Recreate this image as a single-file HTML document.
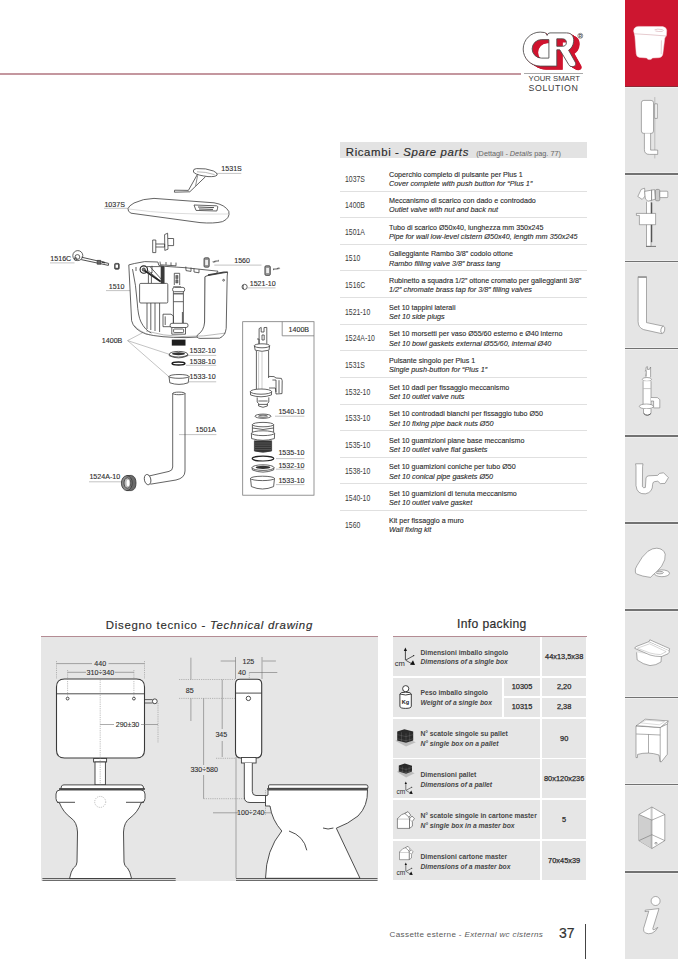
<!DOCTYPE html>
<html><head><meta charset="utf-8">
<style>
*{margin:0;padding:0;box-sizing:border-box}
html,body{width:678px;height:959px;overflow:hidden;background:#fff}
body{position:relative;font-family:"Liberation Sans",sans-serif;color:#333}
.abs{position:absolute}
#side{position:absolute;left:625px;top:0;width:53px;height:959px;background:#e5e5e5}
#side .red{position:absolute;left:0;top:0;width:53px;height:86.6px;background:#cd1630;border-bottom:1px solid #8d2a36;box-shadow:0 1px 0 #f0eeee}
#side .sep{position:absolute;left:0;width:53px;height:1.6px;background:#727272;box-shadow:0 -1px 0 #efefef,0 1px 0 #efefef}
/* spare parts table */
#sp{position:absolute;left:340px;top:142px;width:246px}
#sp .hd{position:relative;height:16.2px;background:#e3e3e3;width:246.8px}
#sp .hd .t{position:absolute;left:5.8px;top:0.1px;font-size:11.4px;line-height:20px;letter-spacing:0.62px;color:#2b2b2b;white-space:nowrap;-webkit-text-stroke:0.15px #2b2b2b}
#sp .hd .s{position:absolute;left:136.2px;top:5.6px;font-size:7.3px;line-height:12px;color:#666;white-space:nowrap}
#sp .row{position:absolute;left:0;width:246.8px;height:26.63px;border-bottom:1.2px solid #e0e0e0}
#sp .row.last{border-bottom:none}
#sp .code{position:absolute;left:5.3px;top:1.7px;height:26.63px;line-height:26.63px;font-size:8.2px;color:#3a3a3a;transform:scaleX(0.84);transform-origin:0 0}
#sp .d{position:absolute;left:48.8px;top:4.7px;font-size:8px;line-height:9.3px;color:#2a2a2a;white-space:nowrap;-webkit-text-stroke:0.12px #2a2a2a;transform:scaleX(0.89);transform-origin:0 0}
#sp .d i{display:block;font-size:8px;color:#2a2a2a;transform:scaleX(1.02);transform-origin:0 0}

/* info packing */
.ic{position:absolute;background:#e6e6e6}
.il{position:absolute;left:420.4px;font-size:6.75px;line-height:9.8px;font-weight:bold;color:#464646;white-space:nowrap}
.il i{display:block}
.iv{position:absolute;font-size:7.4px;font-weight:normal;color:#2a2a2a;white-space:nowrap;text-align:center;line-height:10px;-webkit-text-stroke:0.25px #2a2a2a}
</style></head>
<body>

<!-- header -->
<div class="abs" style="left:0;top:72.6px;width:521px;height:1px;background:#f3d0d6"></div>
<div class="abs" style="left:0;top:73.4px;width:521px;height:1.3px;background:#c4979f"></div>
<div class="abs" style="left:524px;top:73.3px;width:59px;height:1.2px;background:#a9a9a9"></div>
<div class="abs" style="left:528.6px;top:75.4px;font-size:7.7px;letter-spacing:0.02px;color:#3a3a3a;line-height:8px;white-space:nowrap">YOUR SMART</div>
<div class="abs" style="left:528.6px;top:83.5px;font-size:8.8px;letter-spacing:0.62px;color:#3a3a3a;line-height:9px;white-space:nowrap">SOLUTION</div>

<!-- logo -->
<svg class="abs" style="left:0;top:0" width="678" height="959" viewBox="0 0 678 959">
<defs><path id="lf" d="M540.2 32.1 L544.5 32.5 Q546.6 33 547.1 35.4 Q547.7 33 549.9 32.9 L566.6 32.9 C571.6 32.9 574 36.4 573.7 41.2 C573.4 45.6 571 48.8 568.6 50.2 L575.3 62.2 C576.6 64.8 574.8 66.6 572.2 66.6 C570.4 66.6 569.4 65.8 568.7 64.6 L559.8 49.8 L556.8 49.8 L556.8 66.1 L540.2 66.1 A17 17 0 0 1 540.2 32.1 Z M548.9 39.6 L541.4 39.6 A9.25 9.25 0 0 0 541.4 58.1 L548.9 58.1 Z M556.8 38.8 L562.2 38.8 C565 38.8 566.4 40.2 566.4 42.5 C566.4 45 565 46.3 562.2 46.3 L556.8 46.3 Z" fill-rule="evenodd"/></defs>
<g fill="#d0132e"><use href="#lf" transform="translate(0.50 0.30)"/><use href="#lf" transform="translate(1.00 0.60)"/><use href="#lf" transform="translate(1.50 0.90)"/><use href="#lf" transform="translate(2.00 1.20)"/><use href="#lf" transform="translate(2.50 1.50)"/><use href="#lf" transform="translate(3.00 1.80)"/><use href="#lf" transform="translate(3.50 2.10)"/><use href="#lf" transform="translate(4.00 2.40)"/><use href="#lf" transform="translate(4.50 2.70)"/><use href="#lf" transform="translate(5.00 3.00)"/><use href="#lf" transform="translate(5.50 3.30)"/><use href="#lf" transform="translate(6.00 3.60)"/></g>
<use href="#lf" fill="#fff" stroke="#4a4a4a" stroke-width="0.85"/>
<circle cx="580.3" cy="35.8" r="2.5" fill="#fff" stroke="#555" stroke-width="0.6"/>
<text x="580.3" y="37.6" font-family="Liberation Sans, sans-serif" font-size="4.6" font-weight="bold" fill="#555" text-anchor="middle">R</text>
</svg>

<!-- sidebar -->
<div id="side">
<div class="red"></div>
<div class="sep" style="top:173.4px"></div>
<div class="sep" style="top:260.6px"></div>
<div class="sep" style="top:347.8px"></div>
<div class="sep" style="top:435.0px"></div>
<div class="sep" style="top:522.2px"></div>
<div class="sep" style="top:609.4px"></div>
<div class="sep" style="top:696.6px"></div>
<div class="sep" style="top:783.8px"></div>
<div class="sep" style="top:871.0px"></div>
</div>
<!-- sidebar icons -->
<svg class="abs" style="left:0;top:0" width="678" height="959" viewBox="0 0 678 959">
<!-- 1 cistern (white on red) -->
<g fill="#fff" stroke="#f3d6da" stroke-width="0.5">
<path d="M634.4 34 Q633 30.4 634.2 28.6 Q635.6 26.5 638.4 26.4 L662.6 26.6 Q666.2 27 666.7 30.4 L666.4 35.6 Q665.6 37 664.8 38 L662.8 54.2 Q662.2 57.4 658.6 57.7 L652.4 58 Q651.6 59.8 649.2 59.6 Q647.4 59.6 646.8 58 L639.6 57.4 Q636.4 57 636.2 53.6 L634.9 36.6 Z"/>
</g>
<g fill="none" stroke="#c88a94" stroke-width="0.45">
<path d="M634.6 33.8 Q650 34.6 666.4 36"/>
<path d="M661.4 40.4 L661.2 54.2"/>
<path d="M654.6 29.8 Q657 28.6 662.4 29.6 Q664 30.6 662.4 31.4 Q658.4 31.8 655.4 31"/>
</g>
<g fill="#fff" stroke="#6a6a6a" stroke-width="0.55" stroke-linejoin="round">
<!-- 2 wall cistern -->
<path d="M654.8 97.1 L654.8 158.4" stroke="#999"/>
<rect x="641.4" y="100.4" width="12.1" height="33" rx="2.4"/>
<rect x="654.8" y="103.8" width="2.5" height="14.6"/>
<path d="M644.4 133.4 L644.4 149.5 Q644.4 154.4 649.4 154.4 L657.7 154.4 L657.7 150.1 L650.6 150.1 L650.6 133.4"/>
<!-- 3 fill valve -->
<path d="M646.5 201.7 L646.5 246.4 L651 246.4 L651 201.7"/>
<path d="M651.6 202.5 L651.6 242.2" stroke="#555" stroke-width="1.3"/>
<path d="M636.4 213.4 L655.6 213.4 L655.6 224.7 L639.4 224.7 L639.4 215.4 L636.4 215.4 Z"/>
<path d="M646 246.4 L656 246.4" stroke-width="0.9"/>
<path d="M637.8 196.5 L641.2 189.4 L644.6 188.2 L645.2 196 L642.2 199.4 Z"/>
<path d="M644.6 191.4 L654.6 189.6 L655.4 199.2 L648 201.2 L645.4 199 Z"/>
<rect x="655.4" y="189.4" width="4.4" height="11.4" rx="1.4" fill="#ccc"/>
<rect x="659.8" y="191.2" width="8" height="6.4" rx="0.8"/>
<path d="M651.6 189.8 L651.6 200.6" stroke="#888" stroke-width="1"/>
<!-- 4 pipe -->
<path d="M638.1 276.7 L638.1 321.4 Q638.1 327.6 643.6 329.6 L661.6 333.6 L663.6 326.2 L646.5 322.6 L646.5 276.7 Z"/>
<path d="M638.1 277.2 L646.5 277.2" stroke="#888" stroke-width="1.2"/>
<ellipse cx="662.8" cy="329.8" rx="1.9" ry="3.6" transform="rotate(12 662.8 329.8)"/>
<!-- 5 outlet valve -->
<path d="M646 377.2 L646 367.4 L647.4 366.6 L647.4 369.4 L649.4 369.4 L650.6 367 L650.6 377.2"/>
<path d="M644.8 371.2 L646 370.6 L646 376"/>
<ellipse cx="646.9" cy="379.4" rx="4.6" ry="1.9"/>
<path d="M643.1 381.2 L643.1 405 L651 405 L651 381.2"/>
<path d="M643.4 388.6 L650.8 388.6" stroke="#999"/>
<path d="M651 397.5 L657.4 397.6 L659.8 399.6 L659.8 407.9 L653.6 407.9 L653.6 401 L651 401"/>
<ellipse cx="646.4" cy="406.4" rx="7.1" ry="2.4"/>
<path d="M643.5 409 L643.5 413.4 Q647.3 416.6 651 413.4 L651 409"/>
<path d="M643.8 413.6 Q647.3 416.8 650.8 413.6" stroke="#555" stroke-width="1"/>
<!-- 6 P-trap -->
<path d="M635.6 463.8 L643 463.8 L642.6 466.4 L642.4 486.6 Q643.6 488.6 645.4 487.4 L646 478 Q646.4 476 648.8 475.8 L657.6 475.4 L659.6 473.4 L663.6 472.8 L668.4 477.6 L665 483.4 L660.4 483.6 L657.8 481.2 L654.6 481.6 Q652.6 482 652.6 484.4 Q652.8 492.4 645.4 493.8 Q637 494.6 636 485.6 L636 466.4 Z"/>
<!-- 7 toilet seat -->
<ellipse cx="661.9" cy="573.3" rx="7.6" ry="3.4"/>
<ellipse cx="659.6" cy="572.6" rx="3.8" ry="1.3" fill="#e5e5e5"/>
<path d="M635.4 572 Q634.6 569 637 565.6 Q642 556 648 551.2 Q652.8 548 656.8 548.2 Q663.6 548.6 665.2 554.2 Q666 559.4 661.6 566.2 Q657 572 652.2 575.6 L650.6 577.4 Q642 576.4 636.6 574 Q635.6 573.4 635.4 572 Z"/>
<!-- 8 sink -->
<path d="M636.6 652.4 L637.2 660 Q643 664.4 650 665.6 Q656 665.4 661 662 L661.4 656"/>
<path d="M634.8 648.4 Q634.8 646.8 637 646.2 L649 641.6 L669.2 650.4 Q669.8 652.4 668 653.8 L661.4 656.6 Q655 656.6 650 655 Z"/>
<path d="M637.4 648.2 L649.6 643.8 L666.2 651.6 L660.6 654.6 Q655 654.4 650 653 Z" fill="none" stroke="#999" stroke-width="0.4"/>
<path d="M649 641.6 L649.8 639.8 L669.6 648.6 L669.2 650.4" />
<!-- 9 vanity -->
<path d="M636 726 L636 757.6 L637.4 757.6 L637.6 754.4 Q648 751.4 659 755 L660.2 761.8 L661.4 761.8 L667.3 754.3 L667.3 724 L660.2 727.5 Z"/>
<path d="M636 726 L645.2 719.2 L668.2 720.9 L667.3 724"/>
<path d="M636 725.6 Q648 726.4 660.2 727.5 L668.2 721"/>
<path d="M640 722.8 L646.4 720.2 L664.6 721.6 L659.4 724.8 Z" fill="none" stroke="#aaa" stroke-width="0.4"/>
<path d="M636.2 734 Q648 734.4 660.2 735" fill="none"/>
<path d="M648.5 734.4 L648.5 753" fill="none"/>
<path d="M660.2 727.5 L660.2 761.8" fill="none"/>
<!-- 10 shower box -->
<path d="M638.9 814.5 L651.9 807 L664.8 814.5 L664.8 840.6 L651.9 848.5 L638.9 840.6 Z"/>
<path d="M638.9 814.5 L651.9 820.1 L651.9 848.5 L638.9 840.6 Z" fill="#cfcfcf" stroke="none"/>
<path d="M638.9 814.5 L651.9 820.1 L664.8 814.5 M651.9 807 L651.9 848.5 M638.9 840.6 L651.9 834.7 L664.8 840.6" fill="none"/>
<path d="M650.8 807.4 L650.8 848" fill="none" stroke="#aaa" stroke-width="0.4"/>
<ellipse cx="656" cy="843.2" rx="1.3" ry="0.8" fill="none"/>
<!-- 11 info i -->
<circle cx="655.6" cy="901" r="4.5"/>
<path d="M645.2 910.2 L659 908.6 L652.8 928.6 Q652.6 930.4 654.4 929.6 L657.8 927.4 Q656 931.4 652 933.2 Q648.4 934.4 645.4 933 Q643 931.6 643.6 928.4 L648.8 911.2 L645 911.6 Z"/>
</g>
</svg>

<!-- exploded diagram -->
<svg class="abs" style="left:0;top:0" width="678" height="959" viewBox="0 0 678 959">
<g fill="none" stroke="#9a9a9a" stroke-width="0.6">
<!-- leader lines -->
<path d="M213 173.4 L241.3 173.4"/>
<path d="M104 208.3 L130 208.3"/>
<path d="M50 262.9 L74.5 262.9"/>
<path d="M106 290.6 L147.4 290.6"/>
<path d="M214.3 265.1 L261.5 265.1"/>
<path d="M247.5 287.9 L275.5 287.9"/>
<path d="M127.6 340.6 L146.6 330.6 M127.6 340.6 L169 354.2 M127.6 340.6 L170.2 377.8"/>
<path d="M186 355.4 L216.2 355.4 M186 365.3 L216.2 365.3 M189 381.8 L216.2 381.8"/>
<path d="M179 434.6 L216.4 434.6"/>
<path d="M89 481.8 L123 481.8"/>
<path d="M275 416.2 L304.4 416.2 M276 458.6 L304.4 458.6 M276 469.2 L304.4 469.2 M276 484.6 L304.4 484.6"/>
</g>
<g fill="none" stroke="#3c3c3c" stroke-width="0.8" stroke-linejoin="round">
<!-- push button 1531S -->
<path d="M193.4 171 Q193 169 196.5 168.6 Q206 168 213.5 171 Q217.8 173 217.2 175 Q215.5 177 208 176.6 Q198 175.4 194.4 173 Q193.4 172.2 193.4 171 Z" fill="#fff"/>
<path d="M197 171.8 Q205 171.6 214.6 174.6" stroke="#888" stroke-width="0.6"/>
<path d="M197.4 174.4 L188.4 190.4 L174.6 190.2 L174.4 192.2 L189.8 191.8 L205.4 176.8"/>
<path d="M197.6 175.4 L195.6 185.8" stroke-width="0.6"/>
<!-- cover 1037S -->
<path d="M128 208.6 Q128.6 206 134 203 Q143 198.6 154 198.4 L214 202.8 Q225 204.6 228.8 211.4 Q230.4 218 222.6 221.6 Q214 223.8 200 222.6 L131 213.2 Q127.6 211.6 128 208.6 Z" fill="#fff"/>
<path d="M194 205 L216.5 205.8 Q218.5 206 217.6 208.2 L216.8 211 L196 210.4 Z"/>
<path d="M198 207 L214 207.6 M199 209 L213 209.4" stroke-width="0.9"/>
<path d="M129 209 Q170 215 228 214" stroke="#bbb" stroke-width="0.5"/>
<!-- bracket 1560 top -->
<path d="M152.7 240 L155.8 240 L155.8 252.6 L152.7 252.6 Z"/>
<path d="M155.8 244 L164.6 244 L164.6 247 L155.8 247"/>
<path d="M164.6 234.6 L167.6 233.2 L168 249.2 L164.8 250.4 Z"/>
<path d="M168 238.5 L173.6 238.5 L173.6 245.6 L168 245.6"/>
<!-- tap 1516C -->
<circle cx="77.8" cy="255.6" r="5" fill="#fff"/>
<circle cx="77.4" cy="257" r="2.4"/>
<circle cx="75.6" cy="259" r="1.4"/>
<path d="M81.5 257.2 L108.6 263.4 L108.4 265.4 L81.2 259.6" stroke-width="0.9"/>
<rect x="97.2" y="260.4" width="3.6" height="3.8" fill="#666"/>
<path d="M102 262 L105 262.8" stroke-width="1.4"/>
<!-- small nut -->
<rect x="114.6" y="263.4" width="4.6" height="5.8" rx="1" fill="#555"/>
<rect x="115.6" y="264.6" width="2.4" height="3.2" fill="#fff" stroke="none"/>
<!-- cistern body -->
<path d="M128.8 264.9 L134.4 263.5 L144.7 261.6 L157.9 262 L158.8 265.3 L164.4 266.3 L185 267.7 L218 271.2 L216 274 L207.8 275.6 L205.2 277 L205 327 Q204.6 334.8 199 337 L186 337.6 Q160 337.6 146 334 Q133.6 329.6 131.6 320.7 Z" fill="#fff"/>
<path d="M132.5 269.1 Q136 285 137.2 302 Q138 316 141 322 Q145 330 151.3 333"/>
<path d="M134.4 325.4 Q140 332 150 335" stroke="#888" stroke-width="0.5"/>
<path d="M160 261.6 L160.4 264.8 L176 265.8 L176 262.6"/>
<path d="M166 262 L166 264.9 M171 262.4 L171 265.4"/>
<path d="M185.8 266.6 L186 270.6 L191 271.4 L191 267.6 M194 268.3 L194 272 L199 272.8 L199 269.4"/>
<path d="M136 267 L136 271 M152 265.8 L152 273"/>
<!-- fill valve 1510 -->
<circle cx="143.8" cy="269.6" r="3.7" stroke="#222" stroke-width="1.1" fill="#fff"/>
<circle cx="143.8" cy="269.6" r="1.6" fill="#777"/>
<path d="M147 266.6 L163.8 266.6 L163.8 283 M147.4 270.2 L161 281.6 M150 266.6 L162 280" />
<rect x="160.7" y="266.3" width="3.7" height="17.8" fill="#3a3a3a" stroke="none"/>
<path d="M144.5 270.5 L160.5 281.5" stroke="#222" stroke-width="1.6"/>
<path d="M148.4 272 L148.4 283.4 M151.4 272 L151.4 283.4"/>
<rect x="139.6" y="283.4" width="28.2" height="19.6" rx="1.2" fill="#fff"/>
<path d="M147 303 L147 329 M150.8 303 L150.8 330 M155 303 L155 331 M159.6 303 L159.6 332"/>
<!-- outlet valve -->
<path d="M174.3 285 L174.3 273.3 L179.7 273.3 L179.7 285"/>
<rect x="175.8" y="275.4" width="2.2" height="3.2" fill="#777" stroke-width="0.5"/>
<rect x="175.8" y="279.8" width="2.2" height="3.2" fill="#777" stroke-width="0.5"/>
<path d="M173.2 286.6 L181 286.6" stroke-width="0.6"/>
<rect x="172.6" y="287.4" width="12.1" height="4.3" rx="1.8" fill="#fff"/>
<path d="M173.4 291.7 L173.4 323.3 M183.4 291.7 L183.4 323.3"/>
<path d="M173.6 293.8 L183.2 293.8" stroke-width="1.1"/>
<path d="M173.6 301.7 L183.2 301.7"/>
<path d="M182.4 312 L182.4 323" stroke="#555" stroke-width="1"/>
<path d="M163 314.2 L171 314.2 L173.4 316 L173.4 326.7 L163 326.7 Z M165.2 316.4 L165.2 325"/>
<rect x="170.1" y="323.3" width="17.9" height="4.2" rx="1.8" fill="#fff"/>
<path d="M171.8 327.5 L171.8 334.2 L185.5 334.2 L185.5 327.5"/>
<rect x="173.6" y="329" width="10" height="3.6" rx="0.8"/>
<!-- front wall -->
<path d="M205 276.6 L207.8 275.6 L227.6 272.2 L227.2 276 L226.2 328.4 Q225.2 336 219.5 338.2 L200 338.4 Q196 338 197.4 335 Q204 331 204.6 322 Z" fill="#fff"/>
<path d="M208 275 L224 272.2 L227.6 272.2" stroke-width="1.3"/>
<circle cx="223.6" cy="280.2" r="0.9"/>
<path d="M146 331 Q180 341 226 333" stroke="#777" stroke-width="0.5"/>
<!-- threaded part -->
<rect x="171.8" y="339.6" width="13.7" height="6" fill="#1e1e1e" stroke="none"/>
<!-- 1532 nut -->
<ellipse cx="178.5" cy="354.2" rx="9.2" ry="2.8" fill="#fff" stroke-width="0.8"/>
<ellipse cx="178.5" cy="353.8" rx="6.6" ry="1.5" fill="#333" stroke="none"/>
<path d="M169.3 354.2 L169.3 355.8 Q178.5 360 187.7 355.8 L187.7 354.2"/>
<!-- 1538 gasket -->
<ellipse cx="178.5" cy="363.6" rx="6.4" ry="1.5" fill="none" stroke="#1a1a1a" stroke-width="1.5"/>
<!-- 1533 cup -->
<ellipse cx="179" cy="376.4" rx="10" ry="1.9" fill="#fff"/>
<path d="M169 376.4 L169.8 382.8 Q179 386 188.2 382.8 L189 376.4"/>
<!-- pipe 1501A -->
<ellipse cx="178.85" cy="393.4" rx="6.15" ry="1.3" fill="#fff"/>
<path d="M172.7 393.4 L172.7 467 Q172.7 470.6 169 471.4 L149 476 M185 393.4 L185 471 Q185 478 176 480 L150.4 484.2"/>
<ellipse cx="147.6" cy="479.6" rx="3.2" ry="5.2" transform="rotate(-12 147.6 479.6)" fill="#fff"/>
<!-- gasket 1524A -->
<path d="M126.7 475.6 L131.4 475.4 Q136 476.4 136 483 Q136 489.8 131.4 490.6 L126.7 490.6 Z" fill="#6a6a6a" stroke="#333"/>
<ellipse cx="126.8" cy="483.1" rx="5.4" ry="7.4" fill="#8a8a8a" stroke="#333"/>
<ellipse cx="127.4" cy="483" rx="3.4" ry="5.2" fill="#bdbdbd" stroke="#3a3a3a"/>
<ellipse cx="128" cy="483" rx="1.4" ry="3.3" fill="#fff" stroke="none"/>
<!-- clips 1560 -->
<rect x="204" y="257.8" width="5.2" height="9.4" rx="1.2" fill="#999"/>
<rect x="205.2" y="260" width="2.8" height="5" fill="#eee" stroke="none"/>
<path d="M212.8 262 L218.8 260.6" stroke-width="1.6" stroke-dasharray="0.8 0.5"/>
<rect x="264.9" y="265.8" width="5.4" height="9.6" rx="1.2" fill="#999"/>
<rect x="266.2" y="268" width="2.8" height="5" fill="#eee" stroke="none"/>
<path d="M273.2 269.4 L280 268.2" stroke-width="1.6" stroke-dasharray="0.8 0.5"/>
<!-- plug 1521 -->
<circle cx="244.6" cy="286.9" r="2.6" fill="#fff"/>
<path d="M243.4 285 Q242.4 287 243.6 289"/>
</g>
<!-- detail box -->
<g fill="none" stroke="#7a7a7a" stroke-width="0.8">
<rect x="242.7" y="321.7" width="71.3" height="173.5"/>
<path d="M282.2 321.7 L282.2 335.8 L314 335.8"/>
</g>
<g fill="none" stroke="#3c3c3c" stroke-width="0.8" stroke-linejoin="round">
<path d="M259.1 343.9 L259.1 328.6 L261.2 327.4 L261.2 332 L264 332 L264 327.6 L266.8 327.4 L266.8 343.9"/>
<path d="M262 335 L264.2 335 L264.2 340 L262 340 Z"/>
<path d="M257 339 L259 339 L259 344"/>
<ellipse cx="262" cy="345.8" rx="7.8" ry="2" fill="#fff"/>
<path d="M254.4 346 L255.2 350.2 Q262 352.4 269 350.2 L269.6 346"/>
<path d="M256.4 351 L256.4 389.6 M268.6 351 L268.6 378"/>
<path d="M258.6 352 L258.6 389 M262 352 L262 389" stroke="#999" stroke-width="0.5"/>
<path d="M268.6 376.4 L274 376.6 L276 378 L281.4 378.4 L282.2 380.6 L282 393.6 L276 394 L275.4 388 L269 388"/>
<path d="M272.4 380 L276 380 L276 392 M279 380.2 L279 393"/>
<ellipse cx="261" cy="391.6" rx="10.6" ry="2.6" fill="#fff"/>
<path d="M250.4 391.6 L250.6 395 Q261 398.6 271.4 395 L271.6 391.6"/>
<path d="M257.2 397.4 L257.2 402 L258.6 403.6 L258.6 406 Q263 408.6 267.4 406 L267.4 403.6 L268.8 402 L268.8 397.4"/>
<path d="M258.4 401 L267.6 401 M258.6 404.4 L267.4 404.4"/>
<!-- 1540 washer -->
<ellipse cx="263" cy="416.2" rx="8" ry="2.1" fill="#fff"/>
<ellipse cx="263" cy="416.2" rx="4.4" ry="1" />
<!-- nut block 1535 -->
<ellipse cx="263" cy="424.6" rx="10.6" ry="2.2" fill="#fff"/>
<path d="M252.4 424.6 L252.4 432.4 M273.6 424.6 L273.6 432.4"/>
<path d="M252.4 428 Q263 431 273.6 428"/>
<ellipse cx="263" cy="433.2" rx="11.6" ry="2.4" fill="#fff"/>
<path d="M251.4 433.4 L251.6 438.6 Q263 442 274.4 438.6 L274.6 433.4"/>
<path d="M254.4 440.6 L254.4 451 Q263 453.4 271.6 451 L271.6 440.6" fill="#333"/>
<path d="M255 443 L271 443 M255 445.2 L271 445.2 M255 447.4 L271 447.4 M255 449.6 L271 449.6" stroke="#777" stroke-width="0.5"/>
<!-- 1535 gasket -->
<ellipse cx="263" cy="458.6" rx="10.8" ry="2.4" fill="none" stroke="#222" stroke-width="1.2"/>
<!-- 1532 nut -->
<ellipse cx="263" cy="467.6" rx="11" ry="2.8" fill="#fff"/>
<ellipse cx="263" cy="467.4" rx="7.4" ry="1.6" fill="#333" stroke="none"/>
<path d="M252 467.6 L252.4 470 Q263 474.2 273.6 470 L274 467.6"/>
<!-- 1533 cup -->
<ellipse cx="262.5" cy="478.4" rx="12" ry="2.2" fill="#fff"/>
<path d="M250.5 478.4 L251.4 486.6 Q262.5 491.4 273.6 486.6 L274.5 478.4"/>
</g>
<g font-family="Liberation Sans, sans-serif" font-size="7.1" fill="#2e2e2e" stroke="#2e2e2e" stroke-width="0.12">
<text x="221.3" y="170.6">1531S</text>
<text x="104.4" y="206.6">1037S</text>
<text x="50.3" y="260.9">1516C</text>
<text x="108.7" y="289.1">1510</text>
<text x="234.2" y="263.1">1560</text>
<text x="249.7" y="286">1521-10</text>
<text x="101.8" y="343.4">1400B</text>
<text x="189.6" y="352.7">1532-10</text>
<text x="189.6" y="363.8">1538-10</text>
<text x="189.6" y="379.1">1533-10</text>
<text x="195.6" y="431.9">1501A</text>
<text x="89.4" y="479.1">1524A-10</text>
<text x="288.6" y="332">1400B</text>
<text x="278.4" y="413.9">1540-10</text>
<text x="278.4" y="455.3">1535-10</text>
<text x="278.4" y="467.8">1532-10</text>
<text x="278.4" y="482.9">1533-10</text>
</g>
</svg>

<!-- spare parts -->
<div id="sp">
<div class="hd"><span class="t">Ricambi - <i>Spare parts</i></span><span class="s">(Dettagli - <i>Details</i> pag. 77)</span></div>
<div class="row" style="top:22.9px"><div class="code">1037S</div><div class="d">Coperchio completo di pulsante per Plus 1<i>Cover complete with push button for “Plus 1”</i></div></div>
<div class="row" style="top:49.5px"><div class="code">1400B</div><div class="d">Meccanismo di scarico con dado e controdado<i>Outlet valve with nut and back nut</i></div></div>
<div class="row" style="top:76.1px"><div class="code">1501A</div><div class="d">Tubo di scarico Ø50x40, lunghezza mm 350x245<i>Pipe for wall low-level cistern Ø50x40, length mm 350x245</i></div></div>
<div class="row" style="top:102.8px"><div class="code">1510</div><div class="d">Galleggiante Rambo 3/8” codolo ottone<i>Rambo filling valve 3/8” brass tang</i></div></div>
<div class="row" style="top:129.4px"><div class="code">1516C</div><div class="d">Rubinetto a squadra 1/2” ottone cromato per galleggianti 3/8”<i>1/2” chromate brass tap for 3/8” filling valves</i></div></div>
<div class="row" style="top:156px"><div class="code">1521-10</div><div class="d">Set 10 tappini laterali<i>Set 10 side plugs</i></div></div>
<div class="row" style="top:182.7px"><div class="code">1524A-10</div><div class="d">Set 10 morsetti per vaso Ø55/60 esterno e Ø40 interno<i>Set 10 bowl gaskets external Ø55/60, internal Ø40</i></div></div>
<div class="row" style="top:209.3px"><div class="code">1531S</div><div class="d">Pulsante singolo per Plus 1<i>Single push-button for “Plus 1”</i></div></div>
<div class="row" style="top:235.9px"><div class="code">1532-10</div><div class="d">Set 10 dadi per fissaggio meccanismo<i>Set 10 outlet valve nuts</i></div></div>
<div class="row" style="top:262.6px"><div class="code">1533-10</div><div class="d">Set 10 controdadi bianchi per fissaggio tubo Ø50<i>Set 10 fixing pipe back nuts Ø50</i></div></div>
<div class="row" style="top:289.2px"><div class="code">1535-10</div><div class="d">Set 10 guamizioni piane base meccanismo<i>Set 10 outlet valve flat gaskets</i></div></div>
<div class="row" style="top:315.8px"><div class="code">1538-10</div><div class="d">Set 10 guamizioni coniche per tubo Ø50<i>Set 10 conical pipe gaskets Ø50</i></div></div>
<div class="row" style="top:342.5px"><div class="code">1540-10</div><div class="d">Set 10 guamizioni di tenuta meccanismo<i>Set 10 outlet valve gasket</i></div></div>
<div class="row last" style="top:369.1px"><div class="code">1560</div><div class="d">Kit per fissaggio a muro<i>Wall fixing kit</i></div></div>
</div>

<!-- section titles -->
<div class="abs" style="left:41.2px;top:636.9px;width:336.5px;height:244.3px;background:#e6e6e6"></div>
<div class="abs" style="left:41.3px;top:635.8px;width:336.4px;height:1.3px;background:#b48c94"></div>
<div id="t1" class="abs" style="left:105.8px;top:616.5px;font-size:11.4px;line-height:16px;letter-spacing:0.72px;color:#2e2e2e;-webkit-text-stroke:0.15px #2e2e2e;white-space:nowrap">Disegno tecnico - <i>Technical drawing</i></div>
<div class="abs" style="left:392.6px;top:635.8px;width:194px;height:1.3px;background:#b48c94"></div>
<div id="t2" class="abs" style="left:457px;top:616.1px;font-size:12.1px;line-height:16px;letter-spacing:0.37px;color:#2e2e2e;-webkit-text-stroke:0.2px #2e2e2e;white-space:nowrap">Info packing</div>

<!-- technical drawing -->
<svg class="abs" style="left:0;top:0" width="678" height="959" viewBox="0 0 678 959">
<g fill="none" stroke="#3a3a3a" stroke-width="0.9">
<!-- front cistern -->
<path d="M56.5 750 L56.5 687 Q56.5 679 64.5 679 L136.5 679 Q144.5 679 144.5 687 L144.5 750 Q144.5 758 136.5 758 L64.5 758 Q56.5 758 56.5 750 Z" fill="#fff" stroke-width="1.1"/>
<line x1="56.5" y1="693.8" x2="144.5" y2="693.8"/>
<circle cx="67.6" cy="698.6" r="1.4"/>
<circle cx="133.9" cy="698.6" r="1.4"/>
<!-- handle -->
<path d="M144.5 699.6 L152.6 699.6 M144.5 703 L152.6 703" stroke-width="0.8"/>
<circle cx="154.8" cy="701.3" r="2.4" fill="#fff"/>
<!-- pipe front -->
<rect x="93.6" y="758.5" width="13" height="3.5" fill="#fff"/>
<rect x="95" y="762" width="10.4" height="22.9" fill="#fff"/>
<!-- seat front -->
<path d="M60.8 789 L61.6 786 Q62 784.9 64 784.9 L140.5 784.9 Q142.5 784.9 143 786 L143.8 789 Z" fill="#fff"/>
<line x1="59" y1="789" x2="145" y2="789" stroke-width="1.4"/>
<!-- bowl front -->
<path d="M60 790 L141 790 Q145 790 145 794 L145 798.5 Q145 802 142 802.5 L141 803 Q138 812 130 818 Q124 822 123.5 832 L124 862 Q124 866 127.5 868 Q130 871 131.6 878.6 L69.5 878.6 Q71 871 73.5 868 Q77 866 77 862 L77.5 832 Q77 822 71 818 Q63 812 59.5 803 L58.5 802.5 Q56 802 56 798.5 L56 794 Q56 790 60 790 Z" fill="#fff"/>
<path d="M57 802.3 L75 802.3 M126 802.3 L144 802.3"/>
<circle cx="100.2" cy="801.9" r="5.5" stroke="#999" stroke-width="0.6" stroke-dasharray="1.2 1"/>
<!-- floor front -->
<path d="M42.4 878.5 L175.7 878.5 M42.4 880.4 L175.7 880.4" stroke-width="0.8"/>
</g>
<g fill="none" stroke="#666" stroke-width="0.55">
<!-- front dims -->
<path d="M56.5 663.6 L92 663.6 M108.5 663.6 L144.5 663.6"/>
<path d="M67.6 672.3 L86 672.3 M115 672.3 L133.9 672.3"/>
<path d="M100.2 758 L100.2 785" stroke-dasharray="1.2 1" stroke="#888"/>
<path d="M100.2 679.5 L100.2 758" stroke-dasharray="1.2 1" stroke="#888"/>
<path d="M56.5 661 L56.5 679 M144.5 661 L144.5 679 M67.6 670 L67.6 697 M133.9 670 L133.9 697" stroke-dasharray="1.2 1" stroke="#888"/>
<path d="M100.2 724.5 L114 724.5 M141 724.5 L158 724.5"/>
<path d="M158 703 L158 743" stroke-dasharray="1.2 1" stroke="#888"/>
<!-- side dims -->
<path d="M190.9 657.7 L190.9 679.5 M190.9 698.4 L190.9 721"/>
<path d="M179 679.5 L235 679.5 M179 698.4 L235 698.4" stroke-dasharray="1.2 1" stroke="#888"/>
<path d="M222.2 679.5 L222.2 729 M222.2 741 L222.2 757"/>
<path d="M216 758.3 L236 758.3" stroke-dasharray="1.2 1" stroke="#888"/>
<path d="M203.6 698.4 L203.6 765 M203.6 775 L203.6 798.7"/>
<path d="M203.6 798.7 L265 798.7" stroke-dasharray="1.2 1" stroke="#888"/>
<path d="M220.7 661 L235.5 661 M262.6 661 L275.9 661"/>
<path d="M235.5 657 L235.5 679 M262 657 L262 679" />
<path d="M249.3 672.5 L277.3 672.5"/>
<path d="M249.3 672.5 L249.3 698" stroke-dasharray="1.2 1" stroke="#888"/>
<path d="M213 812.8 L238 812.8 M264 812.8 L293.6 812.8"/>
<path d="M265.5 790 L265.5 815" stroke-dasharray="1.2 1" stroke="#888"/>
</g>
<g fill="none" stroke="#3a3a3a" stroke-width="0.9">
<!-- side wall -->
<line x1="236" y1="757" x2="236" y2="878" stroke="#777" stroke-width="0.6"/>
<!-- side cistern -->
<path d="M235.5 752 L235.5 684 Q235.5 679.2 240 679.2 L257.2 679.2 Q261.7 679.2 261.7 684 L261.7 752 Q261.7 758 256 758 L241 758 Q235.5 758 235.5 752 Z" fill="#fff" stroke-width="1.1"/>
<line x1="235.5" y1="693.1" x2="261.7" y2="693.1"/>
<circle cx="248.4" cy="698.4" r="2.2"/>
<!-- side pipe -->
<rect x="241.4" y="757.5" width="14.7" height="5.5" fill="#fff"/>
<path d="M244.3 763 L244.3 797 Q244.3 802.5 250 802.5 L266 802.5 L266 795.5 L256 795.5 Q252.3 795.5 252.3 791.5 L252.3 763" fill="#fff"/>
<!-- side bowl -->
<path d="M268.5 788.3 L268.5 785.6 Q268.5 784.8 270 784.8 L366 784.8 Q367.9 784.8 367.9 786.4 L367.9 788.3 Z" fill="#fff"/>
<path d="M268 790 L367.5 790 Q368 806 358 816 Q348 824 336.3 828.2 L360 878.3 L265.5 878.3 Q266 850 281.8 831 Q272 820 270 806 L265.5 806 L265.5 796 L268 795 Z" fill="#fff"/>
<line x1="267" y1="789" x2="368" y2="789" stroke-width="1.3"/>
<path d="M289 831 Q304 836 306.8 850.3"/>
<path d="M323 828 Q328 830 333.4 828"/>
<!-- floor side -->
<path d="M236 878.5 L377.5 878.5 M236 880.4 L377.5 880.4" stroke-width="0.8"/>
</g>
<g font-family="Liberation Sans, sans-serif" font-size="7.1" fill="#2e2e2e" stroke="#2e2e2e" stroke-width="0.1" text-anchor="middle">
<text x="100.2" y="666">440</text>
<text x="100.4" y="674.7">310÷340</text>
<text x="127.5" y="726.9">290±30</text>
<text x="189.7" y="692.5">85</text>
<text x="248.4" y="663.6">125</text>
<text x="242" y="675.4">40</text>
<text x="221.3" y="737.4">345</text>
<text x="204.2" y="772.4">330÷580</text>
<text x="250.8" y="815.2">100÷240</text>
</g>
</svg>

<!-- info packing -->
<div class="ic" style="left:392.7px;top:636.80px;width:147.1px;height:39.1px"></div>
<div class="ic" style="left:542px;top:636.80px;width:44.3px;height:39.1px"></div>
<div class="iv" style="left:542px;width:44.3px;top:651.85px">44x13,5x38</div>
<div class="il" style="top:647.50px">Dimensioni imballo singolo<i>Dimensions of a single box</i></div>
<div class="ic" style="left:392.7px;top:677.65px;width:109.3px;height:39.1px"></div>
<div class="ic" style="left:504.2px;top:677.65px;width:35.6px;height:18.75px"></div>
<div class="ic" style="left:504.2px;top:698.00px;width:35.6px;height:18.75px"></div>
<div class="ic" style="left:542px;top:677.65px;width:44.3px;height:18.75px"></div>
<div class="ic" style="left:542px;top:698.00px;width:44.3px;height:18.75px"></div>
<div class="iv" style="left:504.2px;width:35.6px;top:682.02px">10305</div>
<div class="iv" style="left:542px;width:44.3px;top:682.02px">2,20</div>
<div class="iv" style="left:504.2px;width:35.6px;top:702.38px">10315</div>
<div class="iv" style="left:542px;width:44.3px;top:702.38px">2,38</div>
<div class="il" style="top:688.35px">Peso imballo singolo<i>Weight of a single box</i></div>
<div class="ic" style="left:392.7px;top:718.50px;width:147.1px;height:39.1px"></div>
<div class="ic" style="left:542px;top:718.50px;width:44.3px;height:39.1px"></div>
<div class="iv" style="left:542px;width:44.3px;top:733.55px">90</div>
<div class="il" style="top:729.20px">N° scatole singole su pallet<i>N° single box on a pallet</i></div>
<div class="ic" style="left:392.7px;top:759.35px;width:147.1px;height:39.1px"></div>
<div class="ic" style="left:542px;top:759.35px;width:44.3px;height:39.1px"></div>
<div class="iv" style="left:542px;width:44.3px;top:774.40px">80x120x236</div>
<div class="il" style="top:770.05px">Dimensioni pallet<i>Dimensions of a pallet</i></div>
<div class="ic" style="left:392.7px;top:800.20px;width:147.1px;height:39.1px"></div>
<div class="ic" style="left:542px;top:800.20px;width:44.3px;height:39.1px"></div>
<div class="iv" style="left:542px;width:44.3px;top:815.25px">5</div>
<div class="il" style="top:810.90px">N° scatole singole in cartone master<i>N° single box in a master box</i></div>
<div class="ic" style="left:392.7px;top:841.05px;width:147.1px;height:39.1px"></div>
<div class="ic" style="left:542px;top:841.05px;width:44.3px;height:39.1px"></div>
<div class="iv" style="left:542px;width:44.3px;top:856.10px">70x45x39</div>
<div class="il" style="top:851.75px">Dimensioni cartone master<i>Dimensions of a master box</i></div>

<!-- info icons -->
<svg class="abs" style="left:0;top:0" width="678" height="959" viewBox="0 0 678 959">
<g transform="translate(405.4 660.1)"><g transform="scale(1.0)">
<path d="M0 0 L0 -9.5" stroke="#222" stroke-width="0.8" fill="none"/>
<path d="M-1.6 -9 L0 -12.5 L1.6 -9 Z" fill="#111"/>
<path d="M0.3 0 L8.4 -4.5" stroke="#333" stroke-width="0.8" fill="none"/>
<circle cx="8.3" cy="-4.5" r="0.7" fill="#222"/>
<path d="M0.6 0.3 L5.6 3.2" stroke="#333" stroke-width="0.8" fill="none"/>
<path d="M4.6 4.7 L9.6 5 L7.6 0.1 Z" fill="#111"/></g>
<text x="-0.6" y="5.60" font-family="Liberation Sans, sans-serif" font-size="7.6" fill="#2a2a2a" text-anchor="end">cm</text>
</g><g fill="#fff" stroke="#2a2a2a" stroke-width="0.9">
<circle cx="405.7" cy="688.7" r="3.1"/>
<path d="M399.9 694 L399.9 706.2 Q399.9 708.4 405.6 708.4 Q411.3 708.4 411.3 706.2 L411.3 694 Q411.3 692.2 405.6 692.2 Q399.9 692.2 399.9 694 Z"/>
<path d="M399.9 694 Q405.6 696 411.3 694" fill="none"/>
<text x="405.5" y="703.6" font-family="Liberation Sans, sans-serif" font-size="5.6" font-weight="bold" fill="#222" stroke="none" text-anchor="middle">Kg</text>
</g><g>
<path d="M395.2 740.8000000000001 L406.0 746.4000000000001 L415.8 742.2 L404.4 737.4000000000001 Z" fill="#bdbdbd"/>
<path d="M397.2 731.4000000000001 L404.4 729.2 L413.2 731.6 L413.2 740.6 L406.0 742.8000000000001 L397.2 740.4000000000001 Z" fill="#2a2a2a"/>
<path d="M406.0 733.4000000000001 L406.0 742.8000000000001 M397.2 734.6400000000001 L406.0 736.6400000000001 L413.2 734.6400000000001 M397.2 738.72 L406.0 740.72 L413.2 738.72 M401.52 732.2 L401.52 741.8000000000001 M409.68 732.2 L409.68 741.8000000000001" stroke="#777" stroke-width="0.35" fill="none"/>
</g><g>
<path d="M396.8 771.8 L406.06 777.4 L414.6 773.1999999999999 L404.74 768.4 Z" fill="#bdbdbd"/>
<path d="M398.8 765.6 L404.74 763.4 L412.0 765.8 L412.0 771.5999999999999 L406.06 773.8 L398.8 771.4 Z" fill="#2a2a2a"/>
<path d="M406.06 767.6 L406.06 773.8 M398.8 767.56 L406.06 769.56 L412.0 767.56 M398.8 770.68 L406.06 772.68 L412.0 770.68 M402.36400000000003 766.4 L402.36400000000003 772.8 M409.096 766.4 L409.096 772.8" stroke="#777" stroke-width="0.35" fill="none"/>
</g><g transform="translate(405.8 790.4)"><g transform="scale(0.72)">
<path d="M0 0 L0 -9.5" stroke="#222" stroke-width="0.8" fill="none"/>
<path d="M-1.6 -9 L0 -12.5 L1.6 -9 Z" fill="#111"/>
<path d="M0.3 0 L8.4 -4.5" stroke="#333" stroke-width="0.8" fill="none"/>
<circle cx="8.3" cy="-4.5" r="0.7" fill="#222"/>
<path d="M0.6 0.3 L5.6 3.2" stroke="#333" stroke-width="0.8" fill="none"/>
<path d="M4.6 4.7 L9.6 5 L7.6 0.1 Z" fill="#111"/></g>
<text x="-0.6" y="4.03" font-family="Liberation Sans, sans-serif" font-size="6.6" fill="#2a2a2a" text-anchor="end">cm</text>
</g><g transform="translate(397.4 818.8) scale(1.0)" fill="#fff" stroke="#444" stroke-width="0.6" stroke-linejoin="round">
<path d="M12.1 0 L15 3 L15 7.4 L12.1 9.6 Z"/>
<path d="M0 0 L12.1 0 L12.1 9.6 L0 9.6 Z"/>
<path d="M0 0 L4.2 -4.2 L10 -6.2 L12.1 0"/>
<path d="M7.4 -5.4 L10.6 -7.2 L13.4 -3.6 L11.4 -1.8 Z"/>
<path d="M12.1 0 L14.6 -2.8 L17 -0.2 L15 2.6"/>
</g><g transform="translate(399.5 852) scale(0.8)" fill="#fff" stroke="#444" stroke-width="0.6" stroke-linejoin="round">
<path d="M12.1 0 L15 3 L15 7.4 L12.1 9.6 Z"/>
<path d="M0 0 L12.1 0 L12.1 9.6 L0 9.6 Z"/>
<path d="M0 0 L4.2 -4.2 L10 -6.2 L12.1 0"/>
<path d="M7.4 -5.4 L10.6 -7.2 L13.4 -3.6 L11.4 -1.8 Z"/>
<path d="M12.1 0 L14.6 -2.8 L17 -0.2 L15 2.6"/>
</g><g transform="translate(405.8 871.4)"><g transform="scale(0.72)">
<path d="M0 0 L0 -9.5" stroke="#222" stroke-width="0.8" fill="none"/>
<path d="M-1.6 -9 L0 -12.5 L1.6 -9 Z" fill="#111"/>
<path d="M0.3 0 L8.4 -4.5" stroke="#333" stroke-width="0.8" fill="none"/>
<circle cx="8.3" cy="-4.5" r="0.7" fill="#222"/>
<path d="M0.6 0.3 L5.6 3.2" stroke="#333" stroke-width="0.8" fill="none"/>
<path d="M4.6 4.7 L9.6 5 L7.6 0.1 Z" fill="#111"/></g>
<text x="-0.6" y="4.03" font-family="Liberation Sans, sans-serif" font-size="6.6" fill="#2a2a2a" text-anchor="end">cm</text>
</g>
</svg>
<!-- footer -->
<div id="ft" class="abs" style="left:389.6px;top:929.9px;font-size:8.1px;line-height:10px;letter-spacing:0.34px;color:#5a5a5a;white-space:nowrap">Cassette esterne - <i>External wc cisterns</i></div>
<div id="pg" class="abs" style="left:559px;top:924.8px;font-size:14px;line-height:16px;color:#333;white-space:nowrap;-webkit-text-stroke:0.2px #333">37</div>
<div class="abs" style="left:584.6px;top:924px;width:1.3px;height:35px;background:#444"></div>
</body></html>
